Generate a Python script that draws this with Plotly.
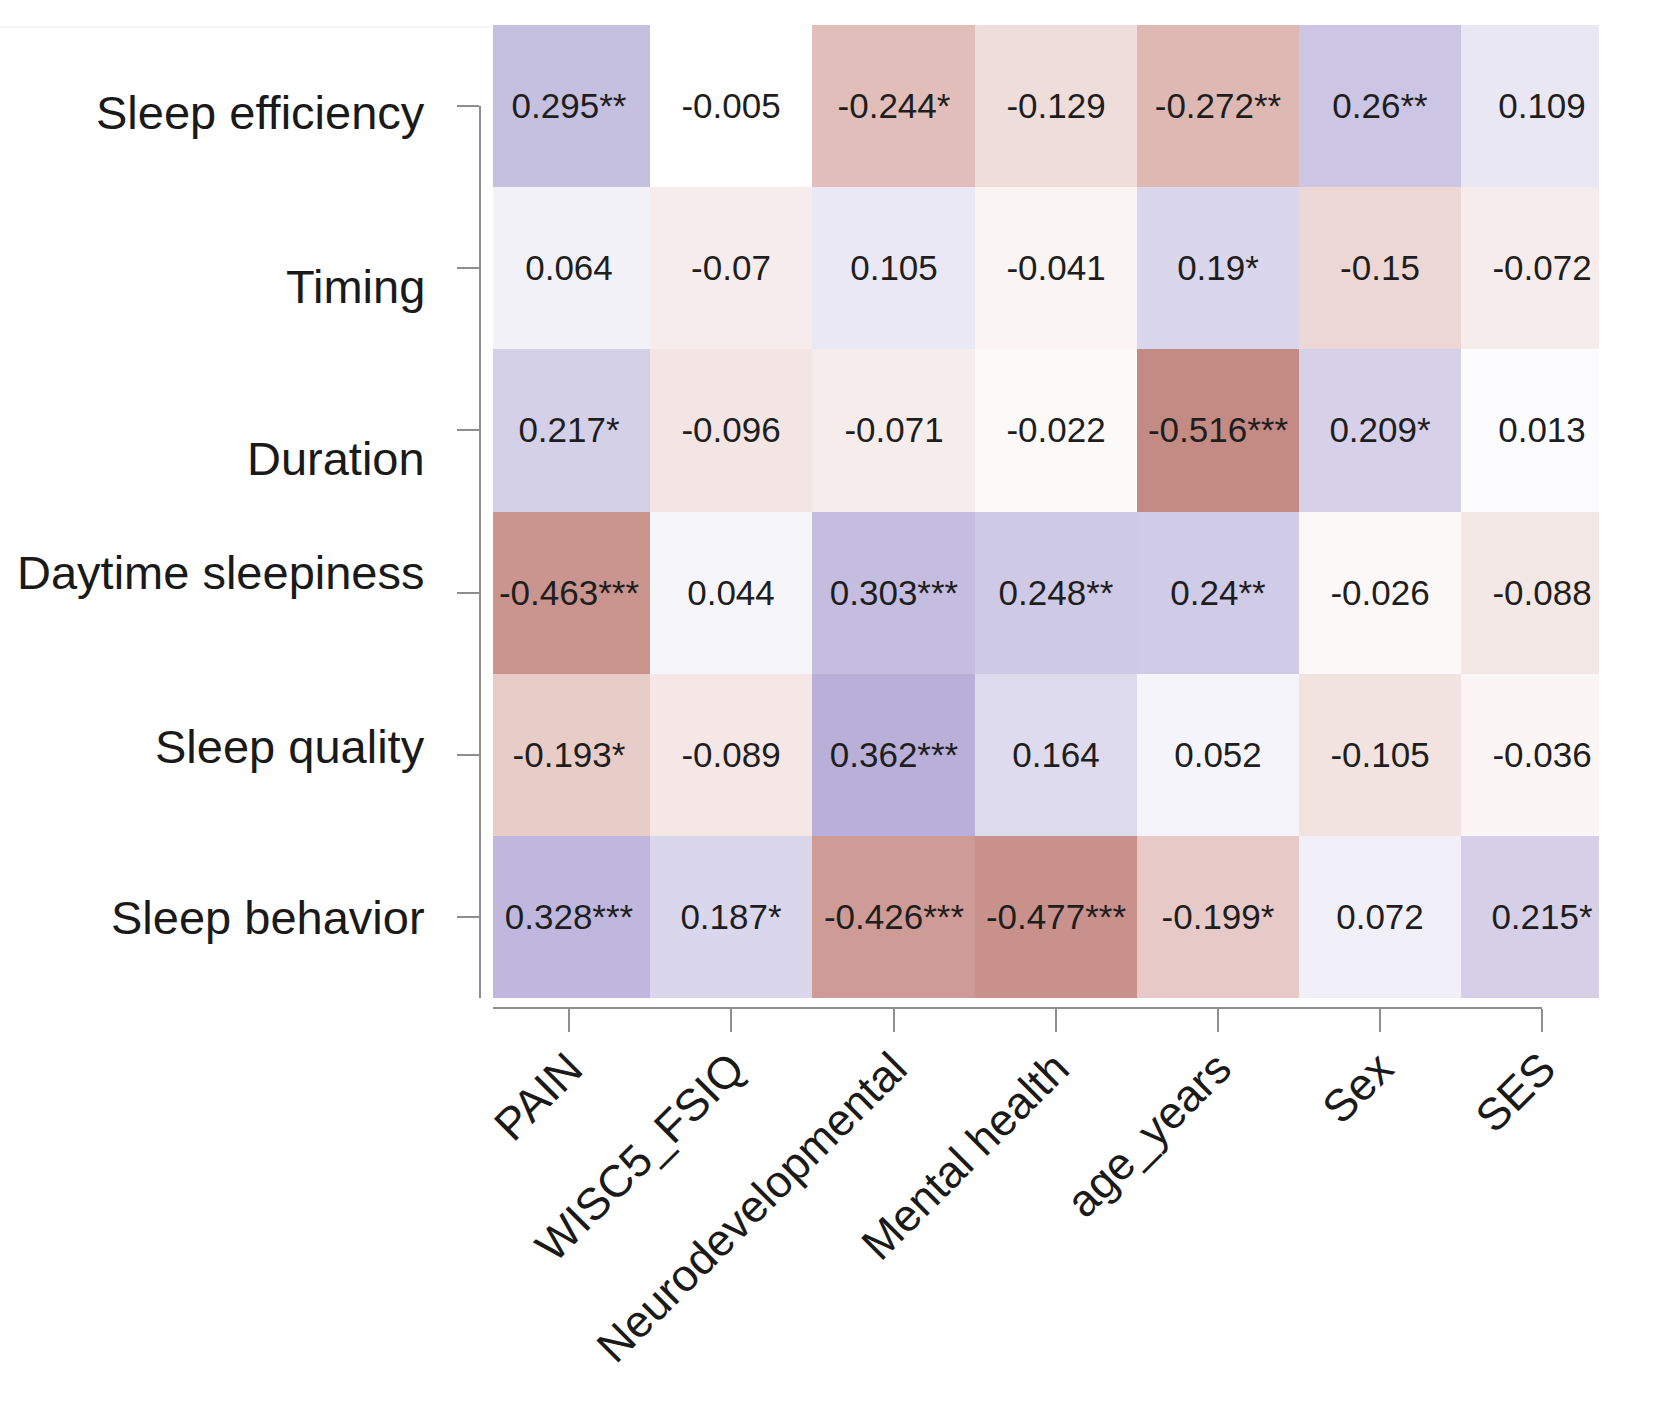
import plotly.graph_objects as go

# ---- data ----
rows = ["Sleep efficiency", "Timing", "Duration", "Daytime sleepiness", "Sleep quality", "Sleep behavior"]
cols = ["PAIN", "WISC5_FSIQ", "Neurodevelopmental", "Mental health", "age_years", "Sex", "SES"]

sleep_efficiency = [0.295, -0.005, -0.244, -0.129, -0.272, 0.26, 0.109]
timing = [0.064, -0.07, 0.105, -0.041, 0.19, -0.15, -0.072]
duration = [0.217, -0.096, -0.071, -0.022, -0.516, 0.209, 0.013]
daytime_sleepiness = [-0.463, 0.044, 0.303, 0.248, 0.24, -0.026, -0.088]
sleep_quality = [-0.193, -0.089, 0.362, 0.164, 0.052, -0.105, -0.036]
sleep_behavior = [0.328, 0.187, -0.426, -0.477, -0.199, 0.072, 0.215]

stars_sleep_efficiency = ["**", "", "*", "", "**", "**", ""]
stars_timing = ["", "", "", "", "*", "", ""]
stars_duration = ["*", "", "", "", "***", "*", ""]
stars_daytime_sleepiness = ["***", "", "***", "**", "**", "", ""]
stars_sleep_quality = ["*", "", "***", "", "", "", ""]
stars_sleep_behavior = ["***", "*", "***", "***", "*", "", "*"]

values = [sleep_efficiency, timing, duration, daytime_sleepiness, sleep_quality, sleep_behavior]
stars = [stars_sleep_efficiency, stars_timing, stars_duration,
         stars_daytime_sleepiness, stars_sleep_quality, stars_sleep_behavior]
text = [[f"{v:g}{s}" for v, s in zip(vr, sr)] for vr, sr in zip(values, stars)]

# row-label vertical nudges in the original layout (px, positive = down)
row_label_nudge = [6, 18, 28, -20, -8, 1]

# ---- geometry (pixels in a 1655x1404 page) ----
W, H = 1655, 1404
left_px, right_px, top_px, bottom_px = 493, 1599, 25, 998
x_lo, x_hi = -0.47, 6.35
y_lo, y_hi = -0.5, len(rows) - 0.5
ux = (right_px - left_px) / (x_hi - x_lo)
uy = (bottom_px - top_px) / (y_hi - y_lo)

def fx(p):
    return p / W

def fy(p):
    return 1 - p / H

last_tick_px = left_px + (len(cols) - 1 - x_lo) * ux
first_row_px = top_px + (0 - y_lo) * uy

colorscale = [
    [0.0, "rgb(186,119,112)"],
    [0.07, "rgb(196,138,132)"],
    [0.2967, "rgb(225,190,186)"],
    [0.5, "rgb(255,255,255)"],
    [0.8017, "rgb(184,176,217)"],
    [1.0, "rgb(137,124,192)"],
]

font_family = "Liberation Sans, Arial, sans-serif"
grey = "#8e8e8e"
txt = "#1a1a1a"

fig = go.Figure()
fig.add_trace(go.Heatmap(
    z=values,
    x=list(range(len(cols))),
    y=list(range(len(rows))),
    text=text,
    texttemplate="%{text}",
    textfont=dict(family=font_family, size=35, color="#1e1e1e"),
    colorscale=colorscale,
    zmin=-0.6, zmax=0.6,
    showscale=False,
    hoverinfo="skip",
))
fig.add_trace(go.Scatter(x=[], y=[], xaxis="x2", yaxis="y2", showlegend=False, hoverinfo="skip"))

annotations = [
    dict(text=name, xref="paper", x=fx(427), xanchor="right",
         yref="y2", y=i, yanchor="middle", yshift=-row_label_nudge[i],
         showarrow=False, font=dict(family=font_family, size=47, color=txt))
    for i, name in enumerate(rows)
]

fig.update_layout(
    width=W, height=H,
    margin=dict(l=0, r=0, t=0, b=0, autoexpand=False),
    paper_bgcolor="white", plot_bgcolor="rgba(0,0,0,0)",
    font=dict(family=font_family, color=txt),
    showlegend=False,
    annotations=annotations,
    shapes=[dict(type="line", xref="paper", yref="paper",
                 x0=0, x1=fx(left_px), y0=fy(27), y1=fy(27),
                 line=dict(color="#ededed", width=1))],
    xaxis=dict(domain=[fx(left_px), fx(right_px)], range=[x_lo, x_hi], visible=False,
               fixedrange=True, automargin=False),
    yaxis=dict(domain=[fy(bottom_px), fy(top_px)], range=[y_hi, y_lo], visible=False,
               fixedrange=True, automargin=False),
    xaxis2=dict(
        anchor="free", position=fy(1008), automargin=False,
        domain=[fx(left_px), fx(last_tick_px)], range=[x_lo, len(cols) - 1],
        tickmode="array", tickvals=list(range(len(cols))), ticktext=cols,
        ticks="outside", ticklen=23, tickwidth=2, tickcolor=grey,
        showline=True, linecolor=grey, linewidth=2,
        showgrid=False, zeroline=False, tickangle=-45,
        tickfont=dict(size=45, color=txt), ticklabelstandoff=-8,
    ),
    yaxis2=dict(
        anchor="free", position=fx(480), automargin=False,
        domain=[fy(bottom_px), fy(first_row_px)], range=[y_hi, 0],
        tickmode="array", tickvals=list(range(len(rows))), ticktext=rows,
        ticks="outside", ticklen=22, tickwidth=2, tickcolor=grey,
        showline=True, linecolor=grey, linewidth=2,
        showgrid=False, zeroline=False, showticklabels=False,
    ),
)

fig.write_html("out.html")
